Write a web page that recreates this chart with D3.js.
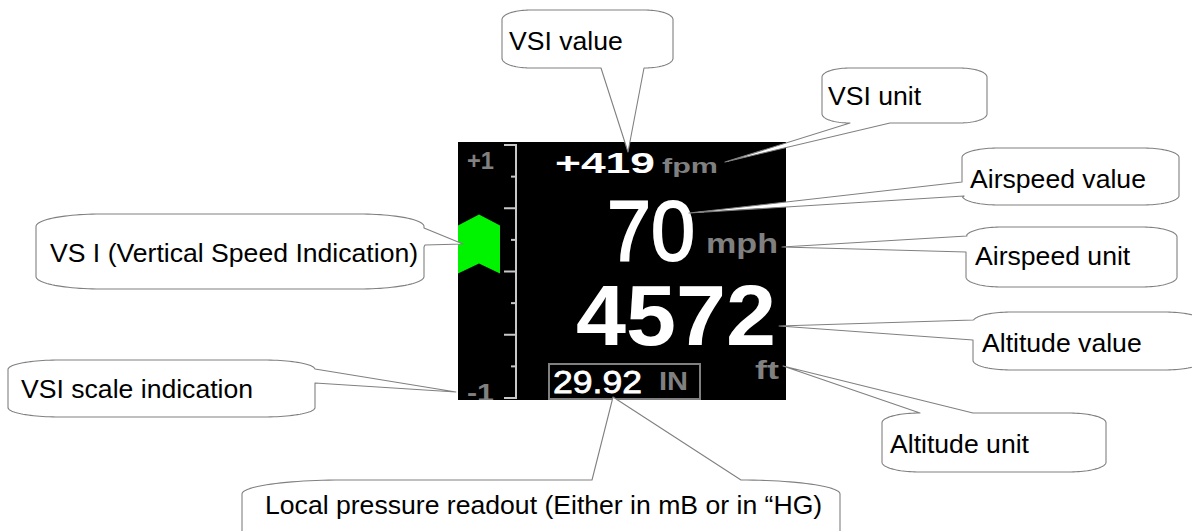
<!DOCTYPE html>
<html>
<head>
<meta charset="utf-8">
<script src="https://cdn.jsdelivr.net/npm/d3@7"></script>
<style>
  html, body { margin: 0; padding: 0; background: #ffffff; }
  svg { display: block; }
</style>
</head>
<body>
<svg id="chart" width="1192" height="531"></svg>
<script>
// ---------------- data ----------------
const vsiTicks = [-1, -0.75, -0.5, -0.25, 0, 0.25, 0.5, 0.75, 1];
const vsiMajorTicks = [-1, -0.5, 0, 0.5, 1];
const vsiTickLabels = ["+1", "-1"];
const vsiTickLabelValues = [1, -1];
const vsiLevel = [0.45];              // green indicator level (scale units)
const vsiReadout = ["+419", "fpm"];
const airspeedReadout = ["70", "mph"];
const altitudeReadout = ["4572", "ft"];
const pressureReadout = ["29.92", "IN"];
const calloutLabels = [
  "VSI value",
  "VSI unit",
  "Airspeed value",
  "Airspeed unit",
  "Altitude value",
  "Altitude unit",
  "VS I (Vertical Speed Indication)",
  "VSI scale indication",
  "Local pressure readout (Either in mB or in \u201CHG)"
];

// ---------------- layout ----------------
const panel = { x: 458, y: 142, w: 328, h: 258 };
const calloutLayout = [
  { box: [502, 10, 171, 58],  b1: [601, 68],  b2: [644, 68],  tip: [628, 152], tx: 509, ty: 50 },
  { box: [822, 68, 165, 55],  b1: [850, 123], b2: [890, 123], tip: [725, 162], tx: 828, ty: 105 },
  { box: [962, 148, 217, 57], b1: [962, 182], b2: [964, 196], tip: [689, 213], tx: 970, ty: 188 },
  { box: [966, 227, 211, 60], b1: [967, 236], b2: [966, 252], tip: [782, 247], tx: 975, ty: 265 },
  { box: [973, 312, 230, 58], b1: [973, 320], b2: [973, 340], tip: [779, 326], tx: 982, ty: 352 },
  { box: [882, 413, 224, 59], b1: [920, 413], b2: [973, 413], tip: [783, 366], tx: 890, ty: 453 },
  { box: [36, 214, 388, 75],  b1: [424, 228], b2: [425, 245], tip: [463, 244], tx: 50,  ty: 262 },
  { box: [8, 360, 307, 57],   b1: [315, 369], b2: [315, 383], tip: [456, 392], tx: 21,  ty: 398 },
  { box: [242, 480, 598, 100], b1: [592, 480], b2: [741, 480], tip: [613, 397], tx: 265, ty: 514 }
];

const svg = d3.select("#chart");

// ---------------- instrument panel ----------------
svg.append("defs").append("clipPath").attr("id", "panelClip")
  .append("rect").attr("x", panel.x).attr("y", panel.y).attr("width", panel.w).attr("height", panel.h);

svg.append("rect")
  .attr("x", panel.x).attr("y", panel.y).attr("width", panel.w).attr("height", panel.h)
  .attr("fill", "#000000");

const g = svg.append("g").attr("clip-path", "url(#panelClip)");

const yVsi = d3.scaleLinear().domain([-1, 1]).range([398, 145]);
const scaleX = 516;
const scaleColor = "#c8c8c8";

// scale spine
g.append("line")
  .attr("x1", scaleX).attr("x2", scaleX)
  .attr("y1", yVsi(-1)).attr("y2", yVsi(1))
  .attr("stroke", scaleColor).attr("stroke-width", 2);

// ticks
g.selectAll("line.tick").data(vsiTicks).enter().append("line")
  .attr("class", "tick")
  .attr("x1", d => vsiMajorTicks.includes(d) ? scaleX - 12 : scaleX - 5)
  .attr("x2", scaleX + 1)
  .attr("y1", d => yVsi(d)).attr("y2", d => yVsi(d))
  .attr("stroke", scaleColor).attr("stroke-width", 2);

// +1 / -1 labels
g.selectAll("text.vsilab").data(vsiTickLabels).enter().append("text")
  .attr("class", "vsilab")
  .attr("x", 467)
  .attr("y", (d, i) => yVsi(vsiTickLabelValues[i]) + (vsiTickLabelValues[i] > 0 ? 24 : 3))
  .attr("font-family", "Liberation Sans, Arial, sans-serif")
  .attr("font-weight", "bold").attr("font-size", 24)
  .attr("textLength", 27).attr("lengthAdjust", "spacingAndGlyphs")
  .attr("fill", "#808080")
  .text(d => d);

// green VSI chevron from zero to level
const chevW = [458, 500];
const chevNotch = 10;
g.selectAll("path.chev").data(vsiLevel).enter().append("path")
  .attr("class", "chev")
  .attr("d", d => {
    const top = yVsi(d), bot = yVsi(0), mid = (chevW[0] + chevW[1]) / 2;
    return d3.line()([
      [chevW[0], top + chevNotch + 1], [mid, top], [chevW[1], top + chevNotch + 1],
      [chevW[1], bot + 2], [mid, bot - chevNotch + 2], [chevW[0], bot + 2]
    ]) + "Z";
  })
  .attr("fill", "#00f400");

const fontDisp = "Liberation Sans, Arial, sans-serif";
function dispText(txt, x, y, size, weight, color, len, strokeW) {
  const t = g.append("text")
    .attr("x", x).attr("y", y)
    .attr("font-family", fontDisp)
    .attr("font-size", size).attr("font-weight", weight)
    .attr("fill", color)
    .attr("textLength", len).attr("lengthAdjust", "spacingAndGlyphs")
    .text(txt);
  if (strokeW) t.attr("stroke", color).attr("stroke-width", strokeW);
  return t;
}

// readouts
dispText(vsiReadout[0], 555, 173, 29, "bold", "#ffffff", 100);
dispText(vsiReadout[1], 662, 173, 21, "bold", "#808080", 56);
dispText(airspeedReadout[0], 607, 260, 86, "normal", "#ffffff", 88, 2);
dispText(airspeedReadout[1], 706, 253, 27, "bold", "#808080", 72);
dispText(altitudeReadout[0], 576, 345, 85, "bold", "#ffffff", 200);
dispText(altitudeReadout[1], 755, 379, 26, "bold", "#808080", 24);

// pressure box
g.append("rect")
  .attr("x", 549).attr("y", 364).attr("width", 151).attr("height", 35)
  .attr("fill", "none").attr("stroke", "#808080").attr("stroke-width", 2);
dispText(pressureReadout[0], 553, 393, 32, "normal", "#ffffff", 89, 0.8);
dispText(pressureReadout[1], 659, 390, 25, "bold", "#808080", 29);

// ---------------- callouts ----------------
function roundRectPoints(x, y, w, h, rx, ry) {
  const pts = [];
  const step = 1.5;
  const arc = (cx, cy, a0, a1) => {
    const n = 24;
    for (let i = 0; i <= n; i++) {
      const a = a0 + (a1 - a0) * i / n;
      pts.push([cx + rx * Math.cos(a), cy + ry * Math.sin(a)]);
    }
  };
  const line = (x0, y0, x1, y1) => {
    const len = Math.hypot(x1 - x0, y1 - y0);
    const n = Math.max(1, Math.ceil(len / step));
    for (let i = 1; i < n; i++) pts.push([x0 + (x1 - x0) * i / n, y0 + (y1 - y0) * i / n]);
  };
  const P = Math.PI;
  line(x + rx, y, x + w - rx, y);
  arc(x + w - rx, y + ry, -P / 2, 0);
  line(x + w, y + ry, x + w, y + h - ry);
  arc(x + w - rx, y + h - ry, 0, P / 2);
  line(x + w - rx, y + h, x + rx, y + h);
  arc(x + rx, y + h - ry, P / 2, P);
  line(x, y + h - ry, x, y + ry);
  arc(x + rx, y + ry, P, 1.5 * P);
  return pts;
}

function nearestIndex(pts, p) {
  let best = 0, bd = Infinity;
  pts.forEach((q, i) => {
    const d = (q[0] - p[0]) ** 2 + (q[1] - p[1]) ** 2;
    if (d < bd) { bd = d; best = i; }
  });
  return best;
}

function calloutPath(L) {
  const [x, y, w, h] = L.box;
  const pts = roundRectPoints(x, y, w, h, w / 6, Math.min(h / 6, 14));
  const N = pts.length;
  let b1 = L.b1, b2 = L.b2;
  let i1 = nearestIndex(pts, b1), i2 = nearestIndex(pts, b2);
  if ((i2 - i1 + N) % N > N / 2) { [i1, i2] = [i2, i1]; [b1, b2] = [b2, b1]; }
  const poly = [b2];
  for (let k = (i2 + 1) % N; k !== i1; k = (k + 1) % N) poly.push(pts[k]);
  poly.push(b1);
  poly.push(L.tip);
  return d3.line()(poly) + "Z";
}

const callouts = svg.selectAll("g.callout")
  .data(calloutLabels.map((label, i) => ({ label, L: calloutLayout[i] })))
  .enter().append("g").attr("class", "callout");

callouts.append("path")
  .attr("d", d => calloutPath(d.L))
  .attr("fill", "#ffffff")
  .attr("stroke", "#808080")
  .attr("stroke-width", 1.1)
  .attr("stroke-linejoin", "round");

callouts.append("text")
  .attr("x", d => d.L.tx).attr("y", d => d.L.ty)
  .attr("font-family", "Liberation Sans, Arial, sans-serif")
  .attr("font-size", 26.6)
  .attr("fill", "#000000")
  .text(d => d.label);
</script>
</body>
</html>
